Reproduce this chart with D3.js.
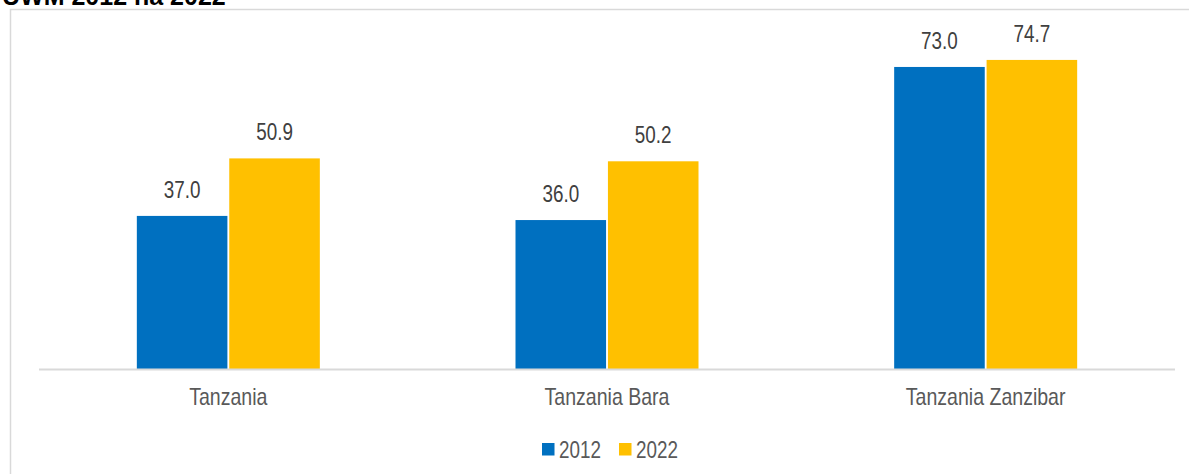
<!DOCTYPE html>
<html>
<head>
<meta charset="utf-8">
<script src="https://cdn.jsdelivr.net/npm/d3@7"></script>
<style>
    body { margin: 0; background: #fff; }
    svg { display: block; }
</style>
</head>
<body>
<svg width="1189" height="474"></svg>
<script>
const categories = ['Tanzania', 'Tanzania Bara', 'Tanzania Zanzibar'];
const seriesNames = ['2012', '2022'];
const values2012 = [37.0, 36.0, 73.0];
const values2022 = [50.9, 50.2, 74.7];
const colors = ['#0070C0', '#FFC000'];

// no narrow font installed, so squeeze Liberation Sans sideways
const font = '"Liberation Sans", Arial, sans-serif';
const squeeze = 0.82;
const textColor = '#595959';

const svg = d3.select('svg');

// title, mostly cropped off at the top
svg.append('text')
    .attr('x', 2)
    .attr('y', 5)
    .style('font-family', font)
    .style('font-weight', 'bold')
    .style('font-size', '25px')
    .style('fill', '#000')
    .text('UWM 2012 na 2022');

// chart border (open on the right and bottom)
svg.append('path')
    .attr('d', 'M10.5,474 V9.5 H1189')
    .style('fill', 'none')
    .style('stroke', '#d9d9d9')
    .style('stroke-width', 1.5);

const left = 39;
const right = 1175;
const baseY = 369;

const x0 = d3.scaleBand()
    .domain(categories)
    .range([left, right]);

const x1 = d3.scaleBand()
    .domain(seriesNames)
    .range([0, 183])
    .paddingInner(0.02);

const y = d3.scaleLinear()
    .domain([0, 80])
    .range([baseY, baseY - 331]);

const rows = categories.map((c, i) => ({
    category: c,
    values: [values2012[i], values2022[i]]
}));

const groups = svg.selectAll('g.group')
    .data(rows)
    .enter()
    .append('g')
    .attr('class', 'group')
    .attr('transform', d => 'translate(' + (x0(d.category) + (x0.bandwidth() - 183) / 2) + ',0)');

groups.selectAll('rect')
    .data(d => d.values.map((v, j) => ({ name: seriesNames[j], value: v, color: colors[j] })))
    .enter()
    .append('rect')
    .attr('x', d => x1(d.name))
    .attr('y', d => y(d.value))
    .attr('width', x1.bandwidth())
    .attr('height', d => baseY - y(d.value))
    .style('fill', d => d.color);

groups.selectAll('text.val')
    .data(d => d.values.map((v, j) => ({ name: seriesNames[j], value: v })))
    .enter()
    .append('text')
    .attr('class', 'val')
    .attr('transform', d => 'translate(' + (x1(d.name) + x1.bandwidth() / 2) + ',' + (y(d.value) - 18) + ') scale(' + squeeze + ',1)')
    .attr('text-anchor', 'middle')
    .style('font-family', font)
    .style('font-size', '23px')
    .style('fill', '#404040')
    .text(d => d.value.toFixed(1));

// category axis
const xAxis = svg.append('g')
    .attr('transform', 'translate(0,' + baseY + ')')
    .call(d3.axisBottom(x0).tickSize(0).tickPadding(0));

xAxis.select('.domain')
    .attr('d', 'M' + left + ',0.5 H' + right)
    .style('stroke', '#d9d9d9')
    .style('stroke-width', 2);

xAxis.selectAll('text')
    .attr('dy', null)
    .attr('y', 0)
    .attr('transform', 'translate(0,36) scale(0.85,1)')
    .style('font-family', font)
    .style('font-size', '23px')
    .style('fill', textColor);

// legend
const legend = svg.append('g')
    .attr('transform', 'translate(542,443)');

const legendItems = legend.selectAll('g')
    .data(seriesNames)
    .enter()
    .append('g')
    .attr('transform', (d, i) => 'translate(' + (i * 77) + ',0)');

legendItems.append('rect')
    .attr('width', 12.5)
    .attr('height', 12.5)
    .style('fill', (d, i) => colors[i]);

legendItems.append('text')
    .attr('transform', 'translate(17,15) scale(' + squeeze + ',1)')
    .style('font-family', font)
    .style('font-size', '23px')
    .style('fill', textColor)
    .text(d => d);
</script>
</body>
</html>
